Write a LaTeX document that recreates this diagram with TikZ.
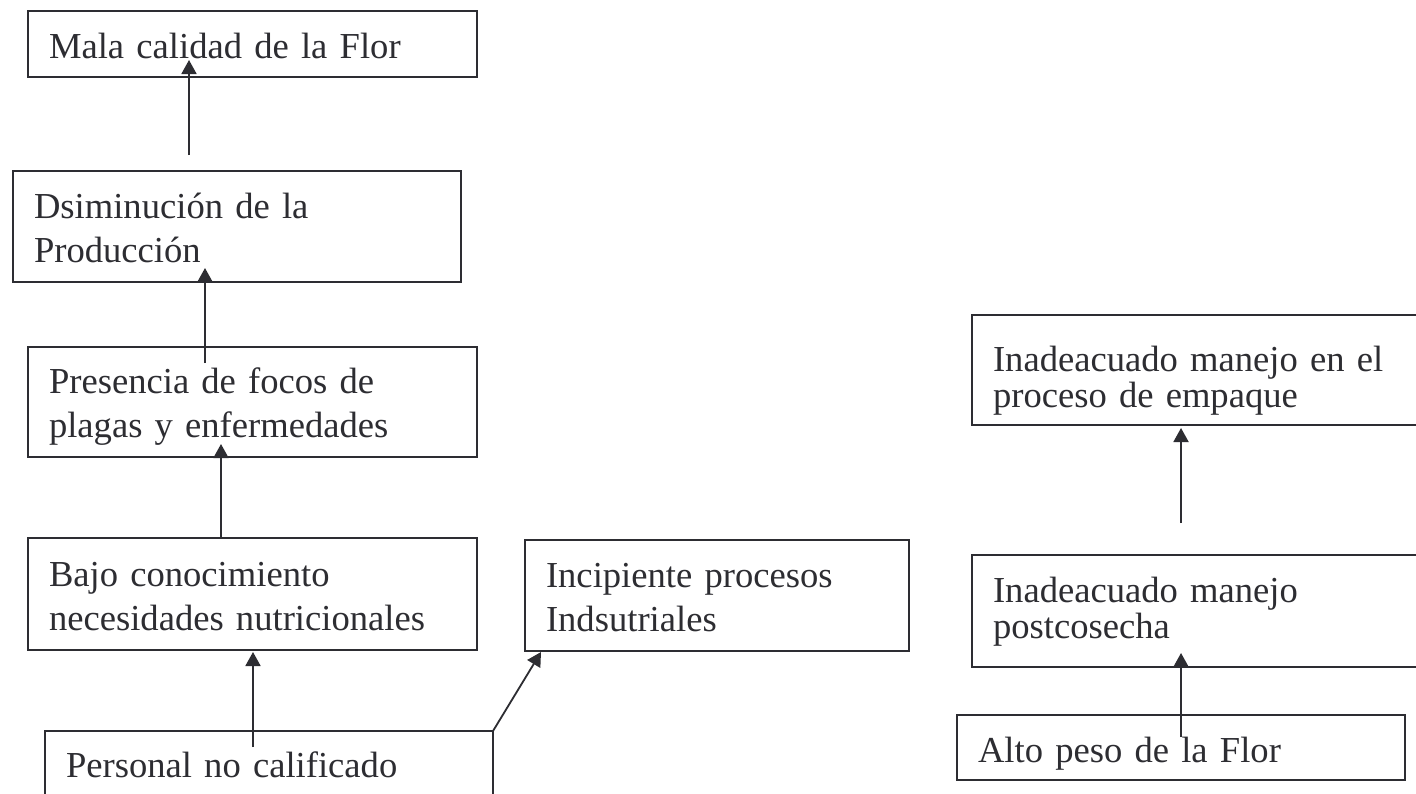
\documentclass[tikz,border=0pt]{standalone}
\usepackage{fontspec}
\setmainfont{Liberation Serif}
\usetikzlibrary{arrows.meta,calc}

\definecolor{tinta}{RGB}{45,45,50}

\tikzset{
    caja/.style={draw=tinta, line width=1pt, anchor=north west, outer sep=0pt,
        inner xsep=10.5pt, inner ysep=0pt, align=left, text=tinta,
        font=\fontsize{18.3}{22}\selectfont},
    interlinea/.style={font=\fontsize{18.3}{18}\selectfont},
    flecha/.style={draw=tinta, line width=0.9pt, -{Triangle[length=7pt,width=7.5pt]}}
}

\begin{document}
\begin{tikzpicture}[x=0.5pt, y=-0.5pt]
        % Marco de la figura.
        \useasboundingbox (0,0) rectangle (1416,793);
        \clip (0,0) rectangle (1416,793);
        \fill[white] (0,0) rectangle (1416,793);

        % Cadena de causas y efectos de la izquierda.
        \node[caja, text width=203.5pt, text height=23.5pt, text depth=9.5pt] (mala) at (28,11) {Mala calidad de la Flor};
        \node[caja, text width=203pt, text height=23.5pt, text depth=32pt] (dsim) at (13,171) {Dsiminución de la\\Producción};
        \node[caja, text width=203.5pt, text height=23pt, text depth=32pt] (presencia) at (28,347) {Presencia de focos de\\plagas y enfermedades};
        \node[caja, text width=203.5pt, text height=24pt, text depth=32pt] (bajo) at (28,538) {Bajo conocimiento\\necesidades nutricionales};
        \node[caja, text width=171pt, text height=23.5pt, text depth=32pt] (incipiente) at (525,540) {Incipiente procesos\\Indsutriales};
        \node[caja, text width=203pt, text height=23pt, text depth=36.5pt] (personal) at (45,731) {Personal no calificado};

        % Cadena de la derecha.
        \node[caja, interlinea, text width=213pt, text height=28pt, text depth=27pt] (empaque) at (972,315) {Inadeacuado manejo en el\\proceso de empaque};
        \node[caja, interlinea, text width=213pt, text height=23.5pt, text depth=32.5pt] (postcosecha) at (972,555) {Inadeacuado manejo\\postcosecha};
        \node[caja, text width=203pt, text height=23.5pt, text depth=9pt] (alto) at (957,715) {Alto peso de la Flor};

        % Extremos libres de dos flechas.
        \coordinate (c1) at (189,155);
        \coordinate (c6) at (1181,523);

        % Conecta cada causa con su efecto.
        \draw[flecha] (c1) -- ($(mala.south -| c1)+(0,-17)$);
        \draw[flecha] ($(presencia.north west)+(177,16)$) -- ($(dsim.south west)+(192,-14)$);
        \draw[flecha] ($(bajo.north west)+(193,0)$) -- ($(presencia.south west)+(193,-13)$);
        \draw[flecha] ($(personal.north west)+(208,16)$) -- ($(bajo.south west)+(225,2)$);
        \draw[flecha] (personal.north east) -- ($(incipiente.south west)+(16,1)$);
        \draw[flecha] (c6) -- ($(c6 |- empaque.south)+(0,3)$);
        \draw[flecha] ($(alto.north west)+(224,22)$) -- ($(postcosecha.south west)+(209,-14)$);
    \end{tikzpicture}
\end{document}
